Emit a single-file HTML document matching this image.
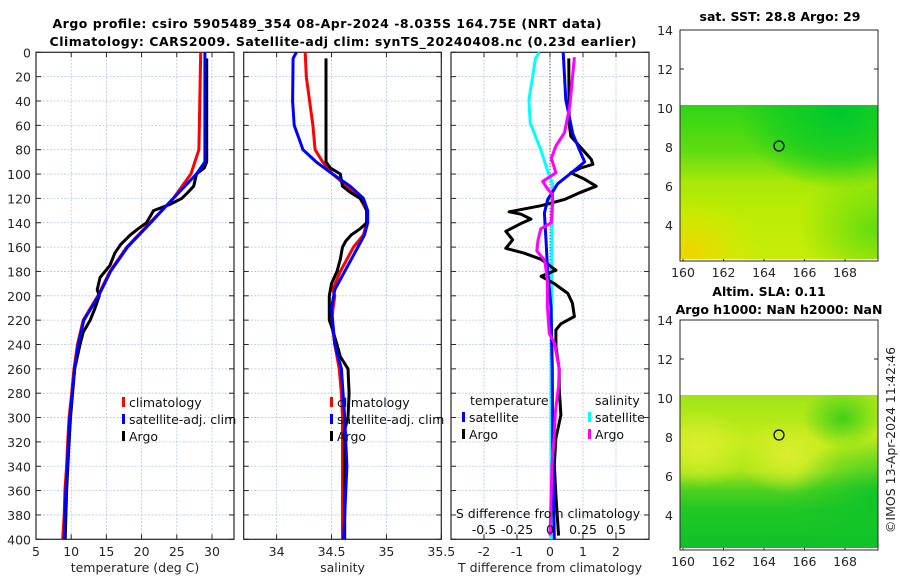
<!DOCTYPE html>
<html><head><meta charset="utf-8"><style>
body{margin:0;background:#fff;}
svg{display:block;font-family:"DejaVu Sans","Liberation Sans",sans-serif;}
</style></head><body>
<svg id="chart" width="900" height="580" viewBox="0 0 900 580" xmlns="http://www.w3.org/2000/svg">
<defs>
<linearGradient id="sstG" x1="0" y1="0" x2="0" y2="1">
<stop offset="0" stop-color="#30d418"/><stop offset="0.3" stop-color="#60dc10"/><stop offset="0.5" stop-color="#a8e808"/><stop offset="0.7" stop-color="#bcec04"/><stop offset="1" stop-color="#c8ec08"/>
</linearGradient>
<radialGradient id="sstDark" cx="0.8" cy="0.05" r="0.5"><stop offset="0" stop-color="#00c830" stop-opacity="1"/><stop offset="0.6" stop-color="#10cc20" stop-opacity="0.7"/><stop offset="1" stop-color="#10cc20" stop-opacity="0"/></radialGradient>
<radialGradient id="sstOr" cx="0.05" cy="0.95" r="0.35"><stop offset="0" stop-color="#f0d400"/><stop offset="1" stop-color="#e0e800" stop-opacity="0"/></radialGradient>
<radialGradient id="sstR" cx="1" cy="0.8" r="0.4"><stop offset="0" stop-color="#60dc10"/><stop offset="1" stop-color="#60dc10" stop-opacity="0"/></radialGradient>
<linearGradient id="slaG" x1="0" y1="0" x2="0" y2="1">
<stop offset="0" stop-color="#a0e418"/><stop offset="0.3" stop-color="#c4ec18"/><stop offset="0.5" stop-color="#aae618"/><stop offset="0.62" stop-color="#50d020"/><stop offset="0.75" stop-color="#20c824"/><stop offset="1" stop-color="#10c02a"/>
</linearGradient>
<radialGradient id="slaY1" cx="0.1" cy="0.35" r="0.25"><stop offset="0" stop-color="#dcee30"/><stop offset="1" stop-color="#dcee30" stop-opacity="0"/></radialGradient>
<radialGradient id="slaY2" cx="0.55" cy="0.4" r="0.25"><stop offset="0" stop-color="#dcee30"/><stop offset="1" stop-color="#dcee30" stop-opacity="0"/></radialGradient>
<radialGradient id="slaR" cx="1" cy="0.7" r="0.45"><stop offset="0" stop-color="#10c428"/><stop offset="1" stop-color="#10c428" stop-opacity="0"/></radialGradient>
<radialGradient id="slaTR" cx="0.82" cy="0.15" r="0.2"><stop offset="0" stop-color="#40d018"/><stop offset="1" stop-color="#40d018" stop-opacity="0"/></radialGradient>
</defs>
<g id="plots"></g>
<g>
<rect x="680" y="105" width="198" height="154" fill="url(#sstG)"/>
<rect x="680" y="105" width="198" height="154" fill="url(#sstDark)"/>
<rect x="680" y="105" width="198" height="154" fill="url(#sstOr)"/>
<rect x="680" y="105" width="198" height="154" fill="url(#sstR)"/>
<rect x="680" y="30" width="198" height="231" fill="none" stroke="#262626" stroke-width="1"/>
<circle cx="779" cy="146" r="5" fill="none" stroke="#000" stroke-width="1.2"/>
<text x="780" y="21" font-size="12.5" font-weight="bold" text-anchor="middle">sat. SST: 28.8 Argo: 29</text>
</g>
<g>
<rect x="680" y="395" width="198" height="153" fill="url(#slaG)"/>
<rect x="680" y="395" width="198" height="153" fill="url(#slaY1)"/>
<rect x="680" y="395" width="198" height="153" fill="url(#slaY2)"/>
<rect x="680" y="395" width="198" height="153" fill="url(#slaR)"/>
<rect x="680" y="395" width="198" height="153" fill="url(#slaTR)"/>
<rect x="680" y="320" width="198" height="230" fill="none" stroke="#262626" stroke-width="1"/>
<circle cx="779" cy="435" r="5" fill="none" stroke="#000" stroke-width="1.2"/>
<text x="769" y="296" font-size="12.5" font-weight="bold" text-anchor="middle">Altim. SLA: 0.11</text>
<text x="779" y="314" font-size="12.5" font-weight="bold" text-anchor="middle">Argo h1000: NaN h2000: NaN</text>
</g>
<text transform="translate(895,440) rotate(-90)" font-size="12.5" text-anchor="middle" fill="#262626">©IMOS 13-Apr-2024 11:42:46</text>
<text x="327" y="28" font-size="12.5" font-weight="bold" text-anchor="middle" textLength="549">Argo profile: csiro 5905489_354 08-Apr-2024 -8.035S 164.75E (NRT data)</text>
<text x="343" y="46" font-size="12.5" font-weight="bold" text-anchor="middle" textLength="587">Climatology: CARS2009. Satellite-adj clim: synTS_20240408.nc (0.23d earlier)</text>
</svg>
<script>
// ---- data ----
const tClimDepth = [0,80,100,120,140,160,180,200,220,240,260,280,300,320,340,360,380,400];
const tClim      = [28.4,28.15,27.0,24.5,21.2,17.9,15.5,13.8,11.7,10.9,10.4,10.07,9.7,9.5,9.35,9.1,9.0,8.8];
const tSatDepth  = [0,90,100,120,140,160,180,200,220,240,260,280,300,320,340,360,380,400];
const tSat       = [29.0,29.0,27.8,24.5,21.3,18.0,15.6,13.9,11.8,11.0,10.5,10.15,9.8,9.6,9.45,9.25,9.1,9.0];
const tArgoDepth = [5,90,95,100,105,110,115,120,125,130,135,140,145,150,158,165,175,185,195,200,210,220,230,240,260,280,300,320,360,400];
const tArgo      = [29.25,29.25,28.9,27.8,27.6,27.4,26.6,25.7,24.0,21.7,21.2,20.7,19.5,18.4,17.0,16.2,15.5,14.1,13.7,14.0,13.4,12.7,11.7,11.25,10.5,10.2,9.9,9.7,9.35,9.15];

const sClimDepth = [0,20,40,60,80,90,100,110,120,130,140,150,160,170,180,195,200,220,240,260,280,300,340,400];
const sClim      = [34.26,34.27,34.30,34.33,34.35,34.42,34.51,34.64,34.76,34.82,34.82,34.79,34.70,34.64,34.58,34.51,34.53,34.50,34.53,34.57,34.59,34.60,34.60,34.60];
const sSatDepth  = [0,5,40,60,70,80,90,100,110,120,130,140,150,160,170,180,195,210,240,260,300,340,400];
const sSat       = [34.18,34.15,34.145,34.16,34.20,34.24,34.36,34.51,34.67,34.79,34.83,34.83,34.80,34.74,34.68,34.62,34.53,34.50,34.53,34.59,34.62,34.64,34.61];
const sArgoDepth = [5,90,95,100,105,110,115,120,125,130,140,145,150,155,160,170,180,190,200,220,225,240,250,260,280,300,310,320,360,400];
const sArgo      = [34.45,34.45,34.49,34.58,34.59,34.60,34.67,34.76,34.80,34.82,34.82,34.76,34.68,34.63,34.60,34.58,34.55,34.50,34.48,34.48,34.50,34.55,34.58,34.65,34.66,34.65,34.62,34.62,34.62,34.62];

const dTArgoDepth = [5,58,69,80,88,92,95,99,104,110,115,121,126,131,133,137,140,147,154,161,165,170,179,184,190,198,206,217,223,228,242,260,276,298,317,339,364,397];
const dTArgo      = [0.57,0.58,0.63,0.99,1.25,1.3,0.93,0.63,1.03,1.4,0.93,0.43,-0.27,-1.24,-0.88,-0.58,-0.83,-1.34,-1.13,-1.34,-0.78,-0.27,0.18,-0.27,0.13,0.54,0.68,0.74,0.33,0.18,0.18,0.28,0.28,0.33,0.18,0.13,0.18,0.26];
const dTSatDepth  = [0,39,67,80,90,97,108,121,132,154,181,209,260,320,400];
const dTSat       = [0.40,0.48,0.69,0.89,1.05,0.74,0.23,-0.07,-0.17,-0.12,-0.07,0.03,0.07,0.08,0.13];
const dSSatDepth  = [0,5,39,58,80,97,108,150,250,400];
const dSSat       = [-0.08,-0.11,-0.16,-0.15,-0.07,-0.02,0.02,0.015,0.01,0.008];
const dSArgoDepth = [4,44,66,77,87,99,106,112,117,124,140,145,154,163,171,187,209,231,239,260,274,296,317,339,397];
const dSArgo      = [0.185,0.15,0.11,0.045,0.01,0.045,-0.055,-0.02,0.02,0.02,0.01,-0.07,-0.09,-0.1,-0.04,-0.02,-0.02,-0.005,0.035,0.07,0.065,0.04,0.03,0.015,0.0];

const depthTicks = [0,20,40,60,80,100,120,140,160,180,200,220,240,260,280,300,320,340,360,380,400];
const tTicks = [5,10,15,20,25,30];
const sTicks = [34,34.5,35,35.5];
const dTicks = [-2,-1,0,1,2];
const dSTickLabels = ['-0.5','-0.25','0','0.25','0.5'];
const dSTickValues = [-0.5,-0.25,0,0.25,0.5];
const mapLatTicks = [14,12,10,8,6,4];
const mapLonTicks = [160,162,164,166,168];

// ---- layout ----
const NS='http://www.w3.org/2000/svg';
const Y0=52.3, Y1=539.3;
const yD = d => Y0 + d*(Y1-Y0)/400;
const panels = [
 {name:'temperature', x0:36, x1:234, d0:5, d1:33.13},
 {name:'salinity', x0:243.7, x1:441.3, d0:33.7, d1:35.5},
 {name:'difference', x0:451, x1:649, d0:-3, d1:3}
];
function sx(p,v){return p.x0+(v-p.d0)*(p.x1-p.x0)/(p.d1-p.d0);}
const root=document.getElementById('plots');
function mk(tag,attrs,parent){const e=document.createElementNS(NS,tag);for(const k in attrs)e.setAttribute(k,attrs[k]);(parent||root).appendChild(e);return e;}
function txt(s,attrs,parent){const e=mk('text',attrs,parent);e.textContent=s;return e;}

function axesFor(p,ticks,labels,xlabel,leftLabels){
  const g=mk('g',{});
  
  
  depthTicks.forEach(d=>{
    mk('line',{x1:p.x0,x2:p.x1,y1:yD(d),y2:yD(d),stroke:'#b8c4e8','stroke-width':0.8,'stroke-dasharray':'2,1.5'},g);
    mk('line',{x1:p.x0,x2:p.x0+5,y1:yD(d),y2:yD(d),stroke:'#262626'},g);
    mk('line',{x1:p.x1-5,x2:p.x1,y1:yD(d),y2:yD(d),stroke:'#262626'},g);
    if(leftLabels){const t=txt(String(d),{x:p.x0-5,y:yD(d)+5,'font-size':12.5,'text-anchor':'end',fill:'#262626'},g);
      
      }
  });
  ticks.forEach((v,i)=>{
    const x=sx(p,v);
    mk('line',{x1:x,x2:x,y1:Y0,y2:Y1,stroke:'#b8c4e8','stroke-width':0.8,'stroke-dasharray':'2,1.5'},g);
    mk('line',{x1:x,x2:x,y1:Y1,y2:Y1-5,stroke:'#262626'},g);
    mk('line',{x1:x,x2:x,y1:Y0,y2:Y0+5,stroke:'#262626'},g);
    const t=txt(labels[i],{x:x,y:556,'font-size':12.5,'text-anchor':'middle',fill:'#262626'},g);
    
    
  });
  mk('rect',{x:p.x0,y:Y0,width:p.x1-p.x0,height:Y1-Y0,fill:'none',stroke:'#262626','stroke-width':1.2},g);
  const xl=txt(xlabel,{x:(p.x0+p.x1)/2,y:572,'font-size':12.5,'text-anchor':'middle',fill:'#262626'},g);
  
  
  return g;
}
axesFor(panels[0],tTicks,tTicks.map(String),'temperature (deg C)',true);
axesFor(panels[1],sTicks,sTicks.map(String),'salinity',false);
axesFor(panels[2],dTicks,dTicks.map(String),'T difference from climatology',false);

function series(p,vals,depths,color,name,scale){
  let d='';
  vals.forEach((v,i)=>{d+=(i?'L':'M')+sx(p,v*(scale||1)).toFixed(1)+','+yD(depths[i]).toFixed(1);});
  const e=mk('path',{d:d,fill:'none',stroke:color,'stroke-width':3,'stroke-linejoin':'round'});
  
  
  return e;
}
series(panels[0],tClim,tClimDepth,'#ff0000','temperature-climatology-line');
series(panels[0],tArgo,tArgoDepth,'#000000','temperature-argo-line');
series(panels[0],tSat,tSatDepth,'#0000ff','temperature-satellite-line');
series(panels[1],sClim,sClimDepth,'#ff0000','salinity-climatology-line');
series(panels[1],sArgo,sArgoDepth,'#000000','salinity-argo-line');
series(panels[1],sSat,sSatDepth,'#0000ff','salinity-satellite-line');
const zl=mk('line',{x1:sx(panels[2],0),x2:sx(panels[2],0),y1:Y0,y2:Y1,stroke:'#333','stroke-width':1,'stroke-dasharray':'1,2'});


series(panels[2],dSSat,dSSatDepth,'#00ffff','salinity-satellite-diff-line',4);
series(panels[2],dTArgo,dTArgoDepth,'#000000','temperature-argo-diff-line');
series(panels[2],dTSat,dTSatDepth,'#0000ff','temperature-satellite-diff-line');
series(panels[2],dSArgo,dSArgoDepth,'#ff00ff','salinity-argo-diff-line',4);

const sl=txt('S difference from climatology',{x:548,y:518,'font-size':12.5,'text-anchor':'middle',fill:'#111'});


dSTickValues.forEach((v,i)=>{
  const t=txt(dSTickLabels[i],{x:sx(panels[2],v*4),y:534,'font-size':12.5,'text-anchor':'middle',fill:'#111'});
  
  
});

function legend(x,y,color,label,name){
  const g=mk('g',{});
  
  
  mk('rect',{x:x,y:y-10,width:3,height:10,fill:color},g);
  txt(label,{x:x+7,y:y,'font-size':12.5,fill:'#111'},g);
}
legend(122,407,'#ff0000','climatology','legend-entry-climatology');
legend(122,424,'#0000ff','satellite-adj. clim','legend-entry-satellite');
legend(122,441,'#000000','Argo','legend-entry-argo');
legend(330,407,'#ff0000','climatology','legend-entry-climatology');
legend(330,424,'#0000ff','satellite-adj. clim','legend-entry-satellite');
legend(330,441,'#000000','Argo','legend-entry-argo');
const lh1=txt('temperature',{x:470,y:405,'font-size':12.5,fill:'#111'});


const lh2=txt('salinity',{x:595,y:405,'font-size':12.5,fill:'#111'});


legend(462,422,'#0000ff','satellite','legend-entry-temp-satellite');
legend(462,439,'#000000','Argo','legend-entry-temp-argo');
legend(588,422,'#00ffff','satellite','legend-entry-sal-satellite');
legend(588,439,'#ff00ff','Argo','legend-entry-sal-argo');

function mapAxes(top,bottom,latTop,name){
  const g=mk('g',{});
  
  
  const ly = lat => top + (latTop-lat)*19.5;
  const lx = lon => 683 + (lon-160)*20.25;
  mapLatTicks.forEach(l=>{
    const y=ly(l);
    mk('line',{x1:680,x2:684,y1:y,y2:y,stroke:'#262626'},g);
    mk('line',{x1:874,x2:878,y1:y,y2:y,stroke:'#262626'},g);
    txt(String(l),{x:673,y:y+5,'font-size':12.5,'text-anchor':'end',fill:'#262626'},g);
  });
  mapLonTicks.forEach(l=>{
    const x=lx(l);
    mk('line',{x1:x,x2:x,y1:bottom,y2:bottom-4,stroke:'#262626'},g);
    txt(String(l),{x:x,y:bottom+16,'font-size':12.5,'text-anchor':'middle',fill:'#262626'},g);
  });
}
mapAxes(30,261,14,'sst-map-axes');
mapAxes(320,550,14,'sla-map-axes');
</script>
</body></html>
